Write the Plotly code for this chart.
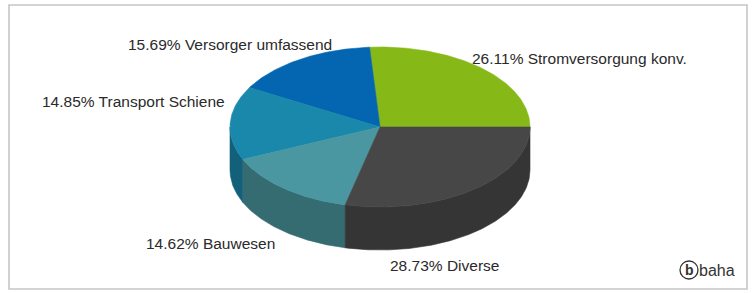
import numpy as np
import plotly.graph_objects as go

# ---- data ----
labels = ["Stromversorgung konv.", "Versorger umfassend", "Transport Schiene", "Bauwesen", "Diverse"]
values = [26.11, 15.69, 14.85, 14.62, 28.73]
top_colors = ["#86b817", "#0466b0", "#1a88aa", "#4a97a2", "#474747"]
side_colors = ["#6a9212", "#03508c", "#13607a", "#356c72", "#353535"]

# ---- layout geometry (pixels) ----
W, H = 754, 293
CX, CY, RX, RY, DEPTH = 380, 127, 150, 80, 43
label_pos = [  # (x, y, xanchor)
    (470, 58, "left"),
    (334, 44, "right"),
    (227, 101, "right"),
    (277, 243, "right"),
    (388, 265, "left"),
]

total = sum(values)
cum = np.concatenate([[0.0], np.cumsum(values)]) / total * 360.0


def arc(a1, a2, dy=0.0, n=None):
    if n is None:
        n = max(4, int(abs(a2 - a1) * 2))
    a = np.radians(np.linspace(a1, a2, n))
    return CX + RX * np.cos(a), CY - RY * np.sin(a) + dy


fig = go.Figure()

# side walls (visible lower half: 180..360 deg)
for i in range(len(values)):
    a1, a2 = cum[i], cum[i + 1]
    s1, s2 = max(a1, 180.0), min(a2, 360.0)
    if s1 < s2:
        xt, yt = arc(s1, s2)
        xb, yb = arc(s2, s1, DEPTH)
        xs = np.concatenate([xt, xb, xt[:1]])
        ys = np.concatenate([yt, yb, yt[:1]])
        fig.add_trace(go.Scatter(x=xs, y=ys, mode="lines", fill="toself",
                                 fillcolor=side_colors[i],
                                 line=dict(color=side_colors[i], width=0.6),
                                 hoverinfo="skip", showlegend=False))

# top faces
for i in range(len(values)):
    a1, a2 = cum[i], cum[i + 1]
    xa, ya = arc(a1, a2)
    xs = np.concatenate([[CX], xa, [CX]])
    ys = np.concatenate([[CY], ya, [CY]])
    fig.add_trace(go.Scatter(x=xs, y=ys, mode="lines", fill="toself",
                             fillcolor=top_colors[i],
                             line=dict(color=top_colors[i], width=0.6),
                             name=labels[i], text=f"{values[i]:.2f}% {labels[i]}",
                             hoverinfo="text", showlegend=False))

annotations = []
for i, (lx, ly, anc) in enumerate(label_pos):
    annotations.append(dict(x=lx, y=ly, xref="x", yref="y", xanchor=anc, yanchor="middle",
                            text=f"{values[i]:.2f}% {labels[i]}", showarrow=False,
                            font=dict(size=15.5, color="#2a2a2a",
                                      family="Liberation Sans, Arial, sans-serif")))

# baha logo
annotations.append(dict(x=689, y=270, xref="x", yref="y", xanchor="center", yanchor="middle",
                        text="<b>b</b>", showarrow=False,
                        font=dict(size=14, color="#333333", family="Liberation Sans, Arial")))
annotations.append(dict(x=697, y=270, xref="x", yref="y", xanchor="left", yanchor="middle",
                        text="baha", showarrow=False,
                        font=dict(size=16, color="#333333", family="Liberation Sans, Arial")))

shapes = [
    dict(type="rect", xref="x", yref="y", x0=9, y0=5, x1=747, y1=289,
         line=dict(color="#c6c6c6", width=1.6), fillcolor="rgba(0,0,0,0)", layer="below"),
    dict(type="circle", xref="x", yref="y", x0=680, y0=261, x1=698, y1=279,
         line=dict(color="#333333", width=1.3)),
]

fig.update_layout(
    width=W, height=H,
    margin=dict(l=0, r=0, t=0, b=0),
    paper_bgcolor="white", plot_bgcolor="white",
    xaxis=dict(range=[0, W], visible=False, fixedrange=True),
    yaxis=dict(range=[H, 0], visible=False, fixedrange=True),
    annotations=annotations, shapes=shapes,
)

fig.write_html("out.html", config={"displayModeBar": False},
               post_script="document.body.style.margin='0';document.body.style.overflow='hidden';")
